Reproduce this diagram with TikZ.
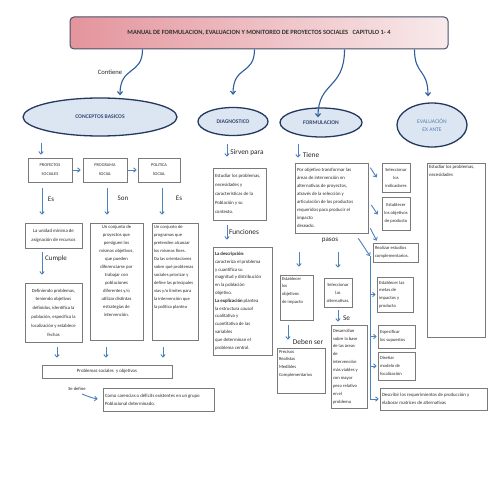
\documentclass[tikz,border=0pt]{standalone}
\usepackage{fontspec}
\setmainfont{Carlito}
\usetikzlibrary{arrows.meta,shapes.geometric,calc}
\definecolor{arrblue}{HTML}{4F81BD}
\definecolor{curveblue}{HTML}{2E5C9A}
\definecolor{ellfill}{HTML}{DCE6F2}
\definecolor{elldraw}{HTML}{24395F}
\definecolor{elltext}{HTML}{34476E}
\definecolor{evaltext}{HTML}{5A7DB5}
\definecolor{boxgray}{HTML}{7A7A7A}
\definecolor{txtgray}{HTML}{2A2A2A}
\definecolor{titleL}{RGB}{228,148,156}
\definecolor{titleR}{RGB}{248,234,235}
\definecolor{titledraw}{HTML}{4A5068}
\newcommand{\bfs}{\fontsize{4.8}{7.8}\selectfont}
\newcommand{\lfs}{\fontsize{7}{8}\selectfont}
\newcommand{\bxt}[3]{\parbox[c][#2][t]{#1}{#3}}
\newcommand{\bxc}[3]{\parbox[c][#2][c]{#1}{#3}}
\tikzset{
 ell/.style={ellipse, draw=elldraw, fill=ellfill, line width=1.3pt, inner sep=0pt, text=elltext, font=\fontsize{5.6}{7}\selectfont\bfseries},
 tbox/.style={draw=boxgray, line width=0.6pt, inner sep=2pt, text=txtgray, font=\bfs},
 arr/.style={draw=arrblue, line width=0.9pt, -{Straight Barb[length=2.5pt,width=4.5pt]}},
 curv/.style={draw=curveblue, line width=1.1pt, -{Straight Barb[length=3pt,width=5pt]}},
 lab/.style={text=black!85, font=\lfs, inner sep=0pt},
}
\begin{document}
\begin{tikzpicture}[x=1pt,y=-1pt]
\useasboundingbox[fill=white] (0,0) rectangle (495,495);

% title
\node[draw=titledraw, line width=1pt, rounded corners=4pt, left color=titleL, right color=titleR,
  minimum width=378pt, minimum height=32pt, inner sep=0pt, text=black!80,
  font=\fontsize{6.4}{7}\selectfont\bfseries] (title) at (259,33)
  {MANUAL DE FORMULACION, EVALUACION Y MONITOREO DE PROYECTOS SOCIALES~~~CAPITULO 1- 4};

% ellipses
\node[ell, minimum width=154pt, minimum height=38pt] (cb) at (100,117) {CONCEPTOS BASICOS};
\node[ell, minimum width=70pt, minimum height=28pt] (diag) at (233,121.5) {DIAGNOSTICO};
\node[ell, minimum width=82pt, minimum height=29pt] (form) at (321,122.5) {FORMULACION};
\node[ell, minimum width=70pt, minimum height=44pt, text=evaltext, font=\fontsize{5.6}{8}\selectfont, align=center] (eval) at (432,125) {EVALUACIÓN\\EX ANTE};

% curves from title
\coordinate (t1) at ($(title.south west)+(73,0)$);
\coordinate (t2) at ($(title.south west)+(185,0)$);
\coordinate (t3) at ($(title.south west)+(275,0)$);
\coordinate (t4) at ($(title.south west)+(345,0)$);
\draw[curv] (t1) .. controls +(0,26) and +(0,-30) .. ($(cb.north)+(20,-2)$);
\draw[curv] (t2) .. controls +(0,26) and +(0,-30) .. ($(diag.north)+(0,-12)$);
\draw[curv] (t3) .. controls +(0,40) and +(0,-36) .. ($(form.north)+(-3,10)$);
\draw[curv] (t4) .. controls +(0,26) and +(0,-28) .. ($(eval.north)+(-4,-6)$);
\node[lab, font=\fontsize{6.6}{8}\selectfont] (contiene) at (110,72) {Contiene};

% conceptos basicos column
\node[tbox] (ps) at (50,170) {\bxc{40pt}{20pt}{\centering\fontsize{4.3}{9}\selectfont PROYECTOS\\SOCIALES}};
\node[tbox] (pg) at (105,170) {\bxc{40pt}{20pt}{\centering\fontsize{4.3}{9}\selectfont PROGRAMA\\SOCIAL}};
\node[tbox] (pol) at (159,170) {\bxc{38pt}{20pt}{\centering\fontsize{4.3}{9}\selectfont POLITICA\\SOCIAL}};

\node[tbox] (u1) at (53.5,235.5) {\bxc{53pt}{21pt}{\centering\fontsize{4.8}{9}\selectfont La unidad mínima de\\asignación de recursos}};
\node[tbox] (u2) at (116.5,281.5) {\bxt{49pt}{113pt}{\centering\fontsize{4.7}{8}\selectfont Un conjunto de\\proyectos que\\persiguen los\\mismos objetivos,\\que pueden\\diferenciarse por\\trabajar con\\poblaciones\\diferentes y/o\\utilizar distintas\\estrategias de\\intervención.}};
\node[tbox] (u3) at (175,281.5) {\bxt{42pt}{113pt}{\raggedright\fontsize{4.6}{8}\selectfont Un conjunto de\\programas que\\pretenden alcanzar\\los mismos fines.\\Da las orientaciones\\sobre qué problemas\\sociales priorizar y\\define las principales\\vías y/o límites para\\la intervención que\\la política plantea}};
\node[tbox] (d1) at (53.5,312.5) {\bxc{53pt}{55pt}{\centering\fontsize{4.7}{8.8}\selectfont Definiendo problemas,\\teniendo objetivos\\definidos, identifica la\\población, especifica la\\localización y establece\\fechas}};
\node[tbox] (prob) at (107,371.5) {\bxc{126pt}{9pt}{\centering\fontsize{4.8}{6}\selectfont Problemas sociales~ y objetivos}};
\node[tbox] (car) at (158.5,399.5) {\bxc{107pt}{19pt}{\raggedright\fontsize{4.8}{8}\selectfont Como carencias o déficits existentes en un grupo\\Poblacional determinado.}};

\coordinate (x41) at (41,0);
\coordinate (x42) at (42,0);
\coordinate (x57) at (57,0);
\coordinate (x106) at (106,0);
\coordinate (x107) at (107,0);
\coordinate (x162) at (162,0);
\coordinate (x163) at (163,0);
\draw[arr, shorten <=6pt, shorten >=3pt] (cb.south -| x41) -- (ps.north -| x41);
\draw[arr, shorten <=1pt, shorten >=2pt] (ps.east) -- (pg.west);
\draw[arr, shorten <=1pt, shorten >=1pt] (pg.east) -- (pol.west);
\draw[arr, shorten <=6pt, shorten >=8pt] (ps.south -| x42) -- (u1.north -| x42);
\draw[arr, shorten <=6pt, shorten >=8pt] (pg.south -| x107) -- (u2.north -| x107);
\draw[arr, shorten <=6pt, shorten >=8pt] (pol.south -| x162) -- (u3.north -| x162);
\draw[arr, shorten <=4pt, shorten >=8pt] (u1.south -| x42) -- (d1.north -| x42);
\draw[arr, shorten <=5pt, shorten >=7pt] (d1.south -| x57) -- (prob.north -| x57);
\draw[arr, shorten <=7pt, shorten >=7pt] (u2.south -| x106) -- (prob.north -| x106);
\draw[arr, shorten <=7pt, shorten >=7pt] (u3.south -| x163) -- (prob.north -| x163);
\coordinate (sd) at (82,394);
\draw[arr, shorten >=5pt] (sd) to[bend right=8] (car.west);
\node[lab] (les1) at (51,199) {Es};
\node[lab] (lson) at (123,198) {Son};
\node[lab] (les2) at (179,198) {Es};
\node[lab] (lcum) at (56,259) {Cumple};
\node[lab, font=\fontsize{4.6}{6}\selectfont] (lsd) at (77,389) {Se define};

% diagnostico column
\node[tbox] (dbox) at (239.5,194) {\bxc{49pt}{48pt}{\raggedright\fontsize{4.8}{9}\selectfont Estudiar los problemas,\\necesidades y\\características de la\\Población y su\\contexto.}};
\node[tbox] (func) at (242.5,301) {\bxc{55pt}{104pt}{\raggedright\fontsize{4.8}{7.8}\selectfont \textbf{La descripción}:\\caracteriza el problema\\y cuantifica su\\magnitud y distribución\\en la población\\objetivo.\\\textbf{La explicación} plantea\\la estructura \textit{causal}\\cualitativa y\\cuantitativa de las\\variables\\que determinan el\\problema central.}};
\coordinate (x227) at (227,0);
\draw[arr, shorten <=8pt, shorten >=11pt] (diag.south -| x227) -- (dbox.north -| x227);
\draw[arr, shorten <=5pt, shorten >=7pt] (dbox.south -| x227) -- (func.north -| x227);
\node[lab, font=\fontsize{7.3}{8}\selectfont] (lsir) at (247,153) {Sirven para};
\node[lab, font=\fontsize{7.3}{8}\selectfont] (lfun) at (244,232) {Funciones};

% formulacion column
\node[tbox] (fbox) at (331.5,198) {\bxc{69pt}{66pt}{\raggedright\fontsize{4.8}{7.9}\selectfont Por objetivo transformar las\\áreas de intervención en\\alternativas de proyectos,\\através de la selección y\\articulación de los productos\\requeridos para producir el\\impacto\\deseado.}};
\node[tbox] (sind) at (396,177.5) {\bxc{24pt}{25pt}{\centering\fontsize{4.6}{8}\selectfont Seleccionar\\los\\indicadores}};
\node[tbox] (eprod) at (396,213.5) {\bxc{24pt}{29pt}{\centering\fontsize{4.6}{8}\selectfont Establecer\\los objetivos\\de producto}};
\node[tbox] (real) at (395.5,252.5) {\bxc{41pt}{15pt}{\raggedright\fontsize{4.6}{7.5}\selectfont Realizar estudios\\complementarios.}};
\node[tbox] (metas) at (395,294.5) {\bxc{32pt}{31pt}{\raggedright\fontsize{4.6}{7.8}\selectfont Establecer las\\metas de\\impactos y\\producto}};
\node[tbox] (supu) at (396.5,336.5) {\bxc{33pt}{19pt}{\raggedright\fontsize{4.6}{7.8}\selectfont Especificar\\los supuestos}};
\node[tbox] (disen) at (396.5,366) {\bxc{33pt}{24pt}{\raggedright\fontsize{4.6}{7.8}\selectfont Diseñar\\modelo de\\focalización}};
\node[tbox] (descr) at (433.5,399) {\bxc{103pt}{18pt}{\raggedright\fontsize{4.8}{8}\selectfont Describir los requerimientos de producción y\\elaborar matrices de alternativas}};
\node[tbox] (eimp) at (296.5,297.5) {\bxt{29pt}{41pt}{\raggedright\fontsize{4.6}{7.7}\selectfont Establecer\\los\\objetivos\\de impacto}};
\node[tbox] (salt) at (338,292.5) {\bxc{24pt}{25pt}{\centering\fontsize{4.6}{8}\selectfont Seleccionar\\las\\alternativas.}};
\node[tbox] (prec) at (301,370.5) {\bxt{44pt}{41pt}{\raggedright\fontsize{4.6}{7.7}\selectfont Precisos\\Realistas\\Medibles\\Complementarios}};
\node[tbox] (desa) at (349,366.5) {\bxc{32pt}{79pt}{\raggedright\fontsize{4.6}{7.9}\selectfont Desarrollan\\sobre la base\\de las áreas\\de\\intervención\\más viables y\\con mayor\\peso relativo\\en el\\problema}};

\coordinate (x298) at (298,0);
\coordinate (x299) at (299,0);
\coordinate (x338) at (338,0);
\coordinate (x288) at (288,0);
\draw[arr, shorten <=6pt, shorten >=5pt] (form.south -| x298) -- (fbox.north -| x298);
\node[lab, font=\fontsize{7.3}{8}\selectfont] (ltie) at (311,155) {Tiene};
\draw[arr] ($(fbox.north east)+(2,5)$) -- ($(sind.west)+(-5,0)$);
\draw[arr] ($(fbox.east)+(3,7)$) -- ($(eprod.west)+(-4,1)$);
\draw[arr] ($(fbox.south east)+(2,-5)$) -- ($(real.north west)+(4,-2)$);
\coordinate (vtop) at (370,256);
\coordinate (vbot) at (370,399);
\draw[arr] ($(fbox.south east)+(-10,5)$) -- (vtop);
\draw[draw=arrblue, line width=0.9pt] (vtop) -- (vbot);
\draw[arr, shorten >=1pt] (metas.west -| vtop) -- (metas.west);
\draw[arr, shorten >=1pt] (supu.west -| vtop) -- (supu.west);
\draw[arr, shorten >=1pt] (disen.west -| vtop) -- (disen.west);
\draw[arr, shorten >=1pt] (descr.west -| vtop) -- (descr.west);
\node[lab] (lpas) at (330,240) {pasos};
\draw[arr, shorten <=19pt, shorten >=8pt] (fbox.south -| x299) -- (eimp.north -| x299);
\draw[arr, shorten <=19pt, shorten >=10pt] (fbox.south -| x338) -- (salt.north -| x338);
\draw[arr, shorten <=5pt, shorten >=8pt] (eimp.south -| x288) -- (prec.north -| x288);
\draw[arr, shorten <=3pt, shorten >=3pt] (salt.south -| x338) -- (desa.north -| x338);
\node[lab, font=\fontsize{7.3}{8}\selectfont] (ldeb) at (308,342) {Deben ser};
\node[lab, font=\fontsize{7.3}{8}\selectfont] (lse) at (346.5,318) {Se};

% evaluacion column
\node[tbox] (ebox) at (456,250) {\bxt{54pt}{170pt}{\raggedright\fontsize{4.8}{8}\selectfont Estudiar los problemas,\\necesidades}};
\end{tikzpicture}
\end{document}
